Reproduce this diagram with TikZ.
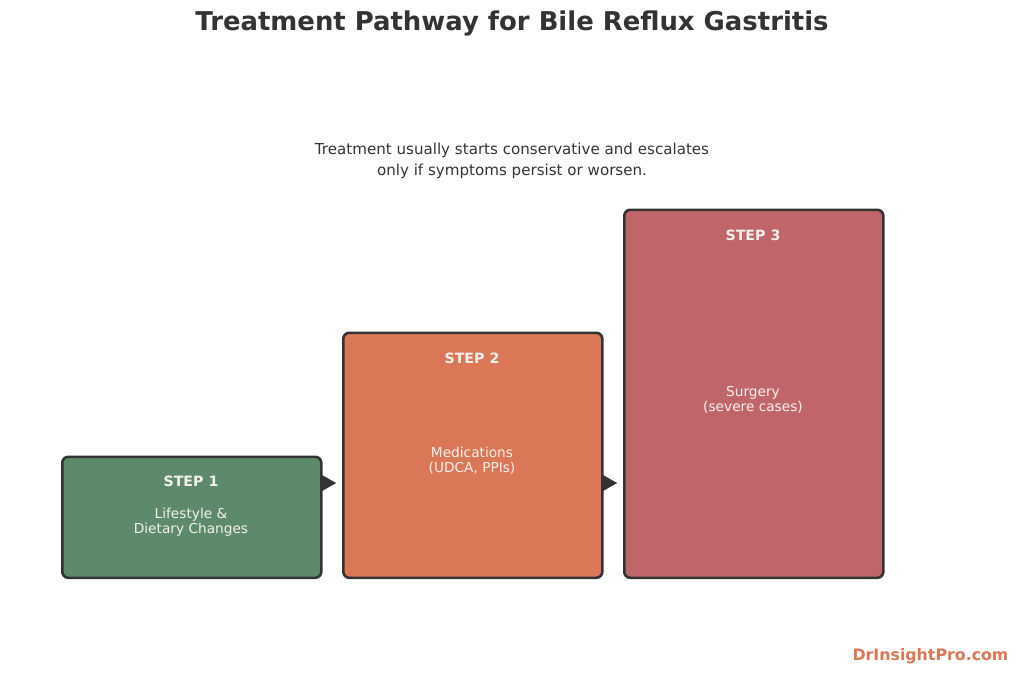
\documentclass[tikz,border=0pt]{standalone}
\usepackage{fontspec}
\setmainfont{DejaVu Sans}
\usetikzlibrary{arrows.meta}
\definecolor{ink}{HTML}{333333}
\definecolor{stepgreen}{HTML}{5C8A6B}
\definecolor{steporange}{HTML}{D97757}
\definecolor{stepred}{HTML}{C0666A}
\definecolor{boxtext}{HTML}{F4F1EC}
\begin{document}
\begin{tikzpicture}[x=1pt,y=-1pt,
  stepbox/.style={draw=ink, line width=2.6pt, rounded corners=6pt, inner sep=0pt, anchor=north west},
  steplabel/.style={text=boxtext, font=\fontsize{14.2}{16}\selectfont\bfseries},
  stepbody/.style={text=boxtext, font=\fontsize{13.7}{15.3}\selectfont, align=center},
  conn/.style={-{Triangle[length=15pt,width=17pt]}, draw=ink, fill=ink, line width=0.1pt, shorten >=6pt}]
\useasboundingbox (0,0) rectangle (1024,675);
\node[text=ink, font=\fontsize{25.9}{30}\selectfont\bfseries] (title) at (512,23) {Treatment Pathway for Bile Reflux Gastritis};
\node[text=ink, font=\fontsize{15.1}{21.5}\selectfont, align=center] (sub) at (512,161) {Treatment usually starts conservative and escalates\\only if symptoms persist or worsen.};
\node[stepbox, fill=stepgreen, minimum width=259pt, minimum height=121pt] (b1) at (61,455.5) {};
\node[stepbox, fill=steporange, minimum width=259pt, minimum height=245pt] (b2) at (342,331.5) {};
\node[stepbox, fill=stepred, minimum width=259pt, minimum height=368pt] (b3) at (623,208.5) {};
\node[steplabel] (l1) at (191,481.5) {STEP 1};
\node[steplabel] (l2) at (472,358.5) {STEP 2};
\node[steplabel] (l3) at (753,235.5) {STEP 3};
\node[stepbody] (t1) at (191,522) {Lifestyle \&\\Dietary Changes};
\node[stepbody] (t2) at (472,460.5) {Medications\\(UDCA, PPIs)};
\node[stepbody] (t3) at (753,399.5) {Surgery\\(severe cases)};
\coordinate (a1) at (b1.east |- 0,483);
\coordinate (a2) at (b2.west |- 0,483);
\coordinate (a3) at (b2.east |- 0,483);
\coordinate (a4) at (b3.west |- 0,483);
\draw[conn] (a1) -- (a2);
\draw[conn] (a3) -- (a4);
\node[text=steporange, font=\fontsize{15.8}{18}\selectfont\bfseries] (wm) at (930.5,656) {DrInsightPro.com};
\end{tikzpicture}
\end{document}
